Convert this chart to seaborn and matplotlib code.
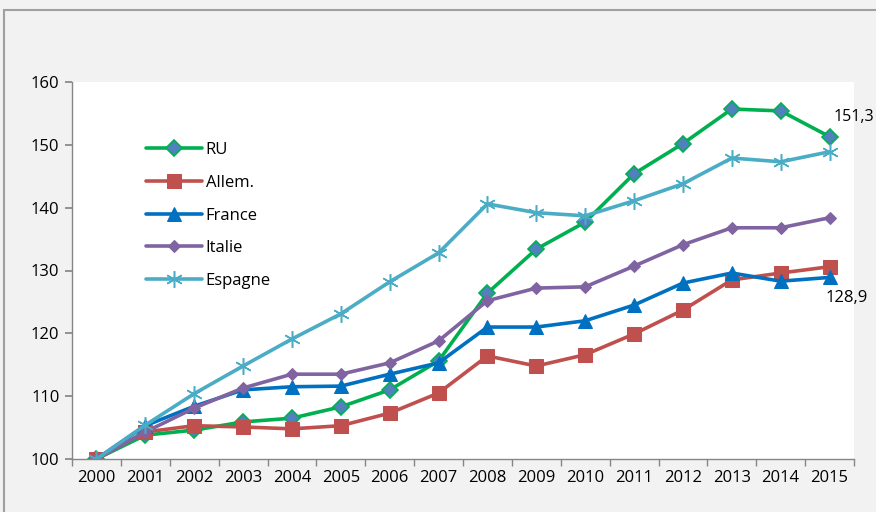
import matplotlib
matplotlib.use("Agg")
import matplotlib.pyplot as plt
import seaborn as sns
import pandas as pd
from matplotlib.patches import Rectangle

years = [2000, 2001, 2002, 2003, 2004, 2005, 2006, 2007,
         2008, 2009, 2010, 2011, 2012, 2013, 2014, 2015]
ru = [100, 103.8, 104.6, 105.9, 106.5, 108.3, 111.0, 115.6,
      126.4, 133.4, 137.7, 145.4, 150.2, 155.7, 155.4, 151.3]
allem = [100, 104.3, 105.3, 105.1, 104.8, 105.3, 107.3, 110.5,
         116.4, 114.8, 116.6, 119.9, 123.7, 128.5, 129.6, 130.6]
france = [100, 105.3, 108.4, 111.0, 111.5, 111.6, 113.5, 115.3,
          121.0, 121.0, 122.0, 124.5, 128.0, 129.6, 128.3, 128.9]
italie = [100, 104.3, 108.1, 111.3, 113.5, 113.5, 115.3, 118.8,
          125.2, 127.2, 127.4, 130.7, 134.1, 136.8, 136.8, 138.4]
espagne = [100, 105.4, 110.4, 114.8, 119.1, 123.1, 128.2, 132.8,
           140.6, 139.2, 138.7, 141.1, 143.8, 147.9, 147.3, 148.9]
names = ["RU", "Allem.", "France", "Italie", "Espagne"]
yticks = [100, 110, 120, 130, 140, 150, 160]

sns.set_theme(style="white")
plt.rcParams["font.family"] = ["Open Sans", "DejaVu Sans"]
plt.rcParams["text.color"] = "black"
plt.rcParams["xtick.color"] = "black"
plt.rcParams["ytick.color"] = "black"

rows = []
for name, vals in zip(names, [ru, allem, france, italie, espagne]):
    for i, v in enumerate(vals):
        rows.append({"pos": i, "val": v, "pays": name})
df = pd.DataFrame(rows)

styles = {
    "RU": dict(color="#00b050", marker="D", markersize=8,
               markerfacecolor="#4f81bd", markeredgecolor="#00b050", markeredgewidth=1.2),
    "Allem.": dict(color="#c0504d", marker="s", markersize=10,
                   markerfacecolor="#c0504d", markeredgecolor="#c0504d"),
    "France": dict(color="#0070c0", marker="^", markersize=10,
                   markerfacecolor="#0070c0", markeredgecolor="#0070c0"),
    "Italie": dict(color="#8064a2", marker="D", markersize=6,
                   markerfacecolor="#8064a2", markeredgecolor="#8064a2"),
    "Espagne": dict(color="#4bacc6", marker=(6, 2, 0), markersize=12,
                    markerfacecolor="#4bacc6", markeredgecolor="#4bacc6", markeredgewidth=1.1),
}

fig = plt.figure(figsize=(8.76, 5.12), dpi=100, facecolor="#f2f2f2")
fig.patches.append(Rectangle((4 / 876, -0.1), 1.2, 1.1 - 10 / 512,
                             transform=fig.transFigure, fill=False,
                             edgecolor="#a0a0a0", linewidth=1.5))
ax = fig.add_axes([72 / 876, 1 - 459 / 512, (854 - 72) / 876, (459 - 82) / 512])
ax.set_facecolor("white")

for name in names:
    sub = df[df["pays"] == name]
    sns.lineplot(data=sub, x="pos", y="val", ax=ax, label=name,
                 linewidth=2.6, **styles[name])

ax.set_xlim(-0.5, len(years) - 0.5)
ax.set_ylim(100, 160)
ax.set_yticks(yticks)
ax.set_yticklabels([str(t) for t in yticks], fontsize=12)
ax.set_xticks(range(len(years)))
ax.set_xticklabels([str(y) for y in years], fontsize=12)
ax.set_xticks([i - 0.5 for i in range(len(years) + 1)], minor=True)
ax.tick_params(axis="x", which="major", length=0, pad=8)
ax.tick_params(axis="x", which="minor", length=5, color="#868686", direction="out", bottom=True)
ax.tick_params(axis="y", length=5, color="#868686", direction="out", left=True, pad=4)
ax.set_xlabel("")
ax.set_ylabel("")
for side in ["top", "right"]:
    ax.spines[side].set_visible(False)
for side in ["left", "bottom"]:
    ax.spines[side].set_color("#868686")
    ax.spines[side].set_linewidth(1)

ax.annotate(f"{ru[-1]:.1f}".replace(".", ","), (len(years) - 1, ru[-1]),
            xytext=(3, 11), textcoords="offset points", fontsize=11.5,
            annotation_clip=False)
ax.annotate(f"{france[-1]:.1f}".replace(".", ","), (len(years) - 1, france[-1]),
            xytext=(-3, -18), textcoords="offset points", fontsize=12,
            annotation_clip=False)

leg = ax.legend(loc="upper left", bbox_to_anchor=(0.075, 0.88), frameon=False,
                fontsize=12, handlelength=3.4, handletextpad=0.2, labelspacing=1.0)

fig.savefig("out.png", dpi=100, facecolor=fig.get_facecolor())
